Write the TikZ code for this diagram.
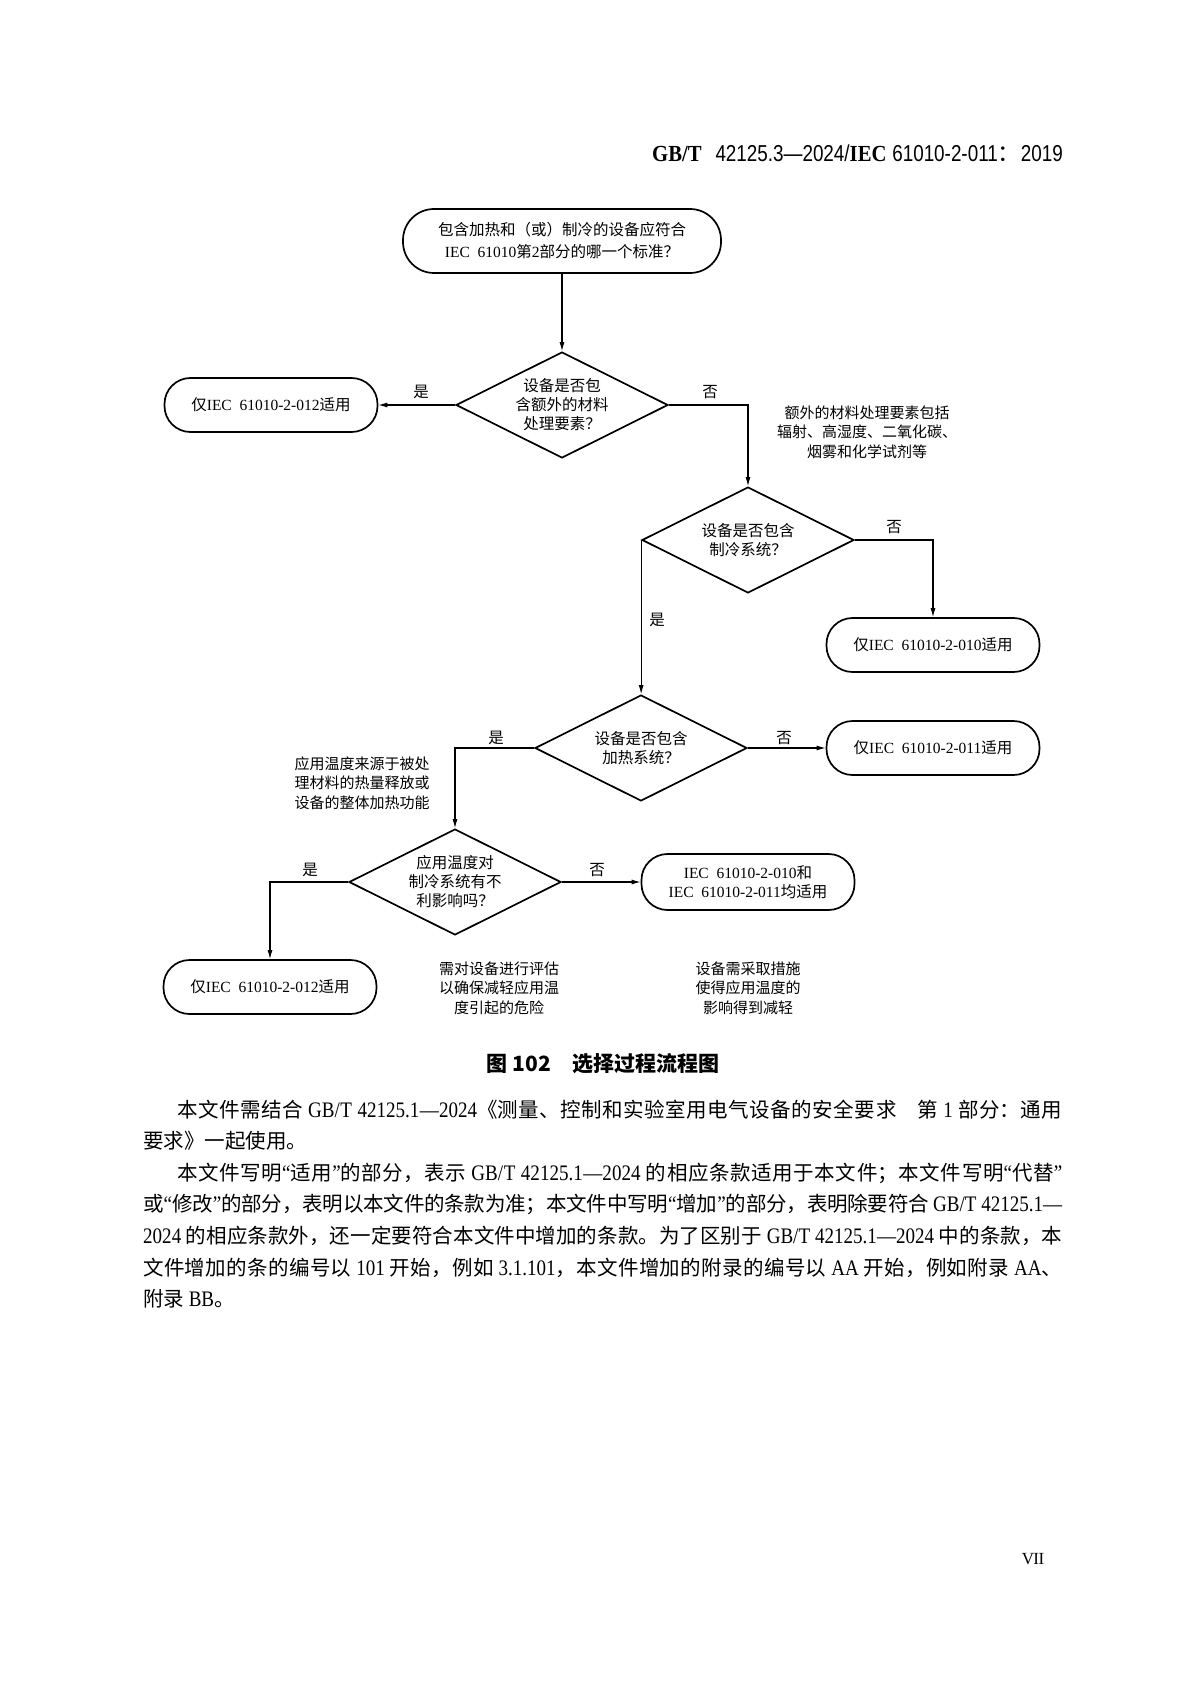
\documentclass[tikz,border=0pt]{standalone}
\usepackage{fontspec}
\setmainfont{Noto Sans CJK SC}
\newfontfamily\latr[FakeStretch=0.86,Scale=1.08]{Liberation Serif}
\newfontfamily\hlatr[FakeStretch=0.9]{Liberation Serif}
\newfontfamily\lats[FakeStretch=0.82]{Liberation Sans}
\newfontfamily\latf{Liberation Serif}
\XeTeXlinebreaklocale "zh"
\XeTeXlinebreakskip=0pt plus 2pt minus 0.8pt
\usetikzlibrary{shapes.geometric,arrows.meta}
\newcommand\Lx[1]{{\latr #1}}
\newcommand\Fx[1]{{\latf #1}}
\tikzset{
 fc/.style={font=\fontsize{15.5}{19}\selectfont},
 term/.style={fc, draw, line width=1.7pt, rounded corners=26pt, minimum width=213pt, minimum height=54pt, align=center, inner sep=0pt},
 dec/.style={fc, draw, line width=1.7pt, diamond, aspect=2, minimum width=212pt, minimum height=106pt, align=center, inner sep=0pt},
 conn/.style={line width=1.1pt, -{Latex[length=9pt,width=5pt]}},
 lab/.style={fc, inner sep=0pt},
 note/.style={font=\fontsize{15}{19.5}\selectfont, align=center, inner sep=0pt},
 body/.style={font=\fontsize{20.5}{20.5}\selectfont, inner sep=0pt, anchor=base west},
}
\begin{document}
\begin{tikzpicture}[x=1pt,y=-1pt]
\useasboundingbox (0,0) rectangle (1191,1685);
\fill[white] (0,0) rectangle (1191,1685);

\node[anchor=east, font=\fontsize{23}{23}\selectfont, inner sep=0pt] (hdr) at (1063,153)
 {{\hlatr\bfseries GB/T}\hspace{0.6em}{\lats 42125.3—2024/}{\hlatr\bfseries IEC}\hspace{0.25em}{\lats 61010-2-011}：{\lats 2019}};

% flowchart
\node[term, minimum width=318pt, minimum height=64pt, rounded corners=31pt, font=\fontsize{15.5}{22}\selectfont] (top) at (562,241)
 {包含加热和（或）制冷的设备应符合\\\Fx{IEC\ \ 61010}第\Fx{2}部分的哪一个标准？};
\node[dec] (d1) at (562,405) {设备是否包\\含额外的材料\\处理要素？};
\node[term] (t1) at (271,405) {仅\Fx{IEC\ \ 61010-2-012}适用};
\node[dec] (d2) at (748,540) {设备是否包含\\制冷系统？};
\node[term] (t2) at (933,645) {仅\Fx{IEC\ \ 61010-2-010}适用};
\node[dec] (d3) at (641,748) {设备是否包含\\加热系统？};
\node[term] (t3) at (933,748) {仅\Fx{IEC\ \ 61010-2-011}适用};
\node[dec] (d4) at (455,882) {应用温度对\\制冷系统有不\\利影响吗？};
\node[term, minimum height=56pt] (t4) at (748,882) {\Fx{IEC\ \ 61010-2-010}和\\\Fx{IEC\ \ 61010-2-011}均适用};
\node[term] (t5) at (270,987) {仅\Fx{IEC\ \ 61010-2-012}适用};

\draw[conn] (top.south) -- (d1.north);
\draw[conn] (d1.west) -- (t1.east);
\draw[conn] (d1.east) -| (d2.north);
\draw[conn] (d2.east) -| (t2.north);
\draw[conn] (d2.west) -- (d2.west |- d3.north);
\draw[conn] (d3.east) -- (t3.west);
\draw[conn] (d3.west) -| (d4.north);
\draw[conn] (d4.east) -- (t4.west);
\draw[conn] (d4.west) -| (t5.north);

\node[lab] (y1) at (421,392) {是};
\node[lab] (n1l) at (710,392) {否};
\node[lab] (n2l) at (894,527) {否};
\node[lab] (y2) at (657,620) {是};
\node[lab] (y3) at (496,738) {是};
\node[lab] (n3l) at (784,738) {否};
\node[lab] (n4l) at (597,870) {否};
\node[lab] (y4) at (310,870) {是};

\node[note] (a1) at (867,432) {额外的材料处理要素包括\\辐射、高湿度、二氧化碳、\\烟雾和化学试剂等};
\node[note] (a2) at (362,783) {应用温度来源于被处\\理材料的热量释放或\\设备的整体加热功能};
\node[note] (a3) at (499,988) {需对设备进行评估\\以确保减轻应用温\\度引起的危险};
\node[note] (a4) at (748,988) {设备需采取措施\\使得应用温度的\\影响得到减轻};

\node[font=\fontsize{21}{21}\selectfont\bfseries, inner sep=0pt] (cap) at (603,1064) {图 102\hspace{1em}选择过程流程图};

% body text
\node[body, text width=885pt, align=justify] (p1) at (177,1117)
 {\noindent\tolerance=10000 本文件需结合 \Lx{GB/T 42125.1—2024}《测量、控制和实验室用电气设备的安全要求　第 \Lx{1} 部分：通用\parfillskip=0pt\par};
\node[body] (p2) at (143,1148) {要求》一起使用。};
\node[body, text width=885pt, align=justify] (p3) at (177,1180)
 {\noindent\tolerance=10000 本文件写明\Lx{“}适用\Lx{”}的部分，表示 \Lx{GB/T 42125.1—2024} 的相应条款适用于本文件；本文件写明\Lx{“}代替\Lx{”}\parfillskip=0pt\par};
\node[body, text width=919pt, align=justify] (p4) at (143,1211)
 {\noindent\tolerance=10000 或\Lx{“}修改\Lx{”}的部分，表明以本文件的条款为准；本文件中写明\Lx{“}增加\Lx{”}的部分，表明除要符合 \mbox{\Lx{GB/T 42125.1—}}\parfillskip=0pt\par};
\node[body, text width=919pt, align=justify] (p5) at (143,1243)
 {\noindent\tolerance=10000 \Lx{2024} 的相应条款外，还一定要符合本文件中增加的条款。为了区别于 \Lx{GB/T 42125.1—2024} 中的条款，本\parfillskip=0pt\par};
\node[body, text width=919pt, align=justify] (p6) at (143,1275)
 {\noindent\tolerance=10000 文件增加的条的编号以 \Lx{101} 开始，例如 \Lx{3.1.101}，本文件增加的附录的编号以 \Lx{AA} 开始，例如附录 \Lx{AA}、\parfillskip=0pt\par};
\node[body] (p7) at (143,1306) {附录 \Lx{BB}。};

\node[font=\fontsize{17}{17}\selectfont, inner sep=0pt] (pg) at (1033,1559) {\latf V\kern-0.6pt I\kern-0.6pt I};
\end{tikzpicture}
\end{document}
